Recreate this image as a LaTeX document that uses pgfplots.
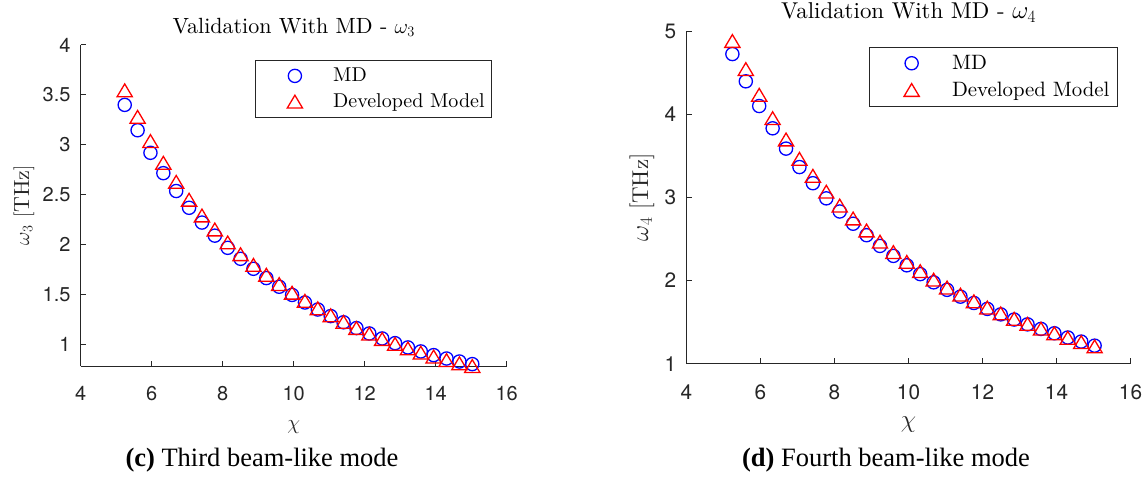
\documentclass[border=0pt]{standalone}
\usepackage{fontspec}
\usepackage{pgfplots}
\usepackage{pgfplotstable}
\pgfplotsset{compat=1.18}
\setmainfont{lmroman10-regular}[Extension=.otf, BoldFont=lmroman10-bold, ItalicFont=lmroman10-italic]
\newfontfamily\heros{TeX Gyre Heros}
\newfontfamily\timesf{Liberation Serif}
\definecolor{axgray}{RGB}{38,38,38}
\definecolor{mdblue}{RGB}{0,0,255}
\definecolor{devred}{RGB}{255,0,0}

\pgfdeclareplotmark{mtri}{%
  \pgfpathmoveto{\pgfqpoint{0pt}{6.4pt}}%
  \pgfpathlineto{\pgfqpoint{-7.6pt}{-6.4pt}}%
  \pgfpathlineto{\pgfqpoint{7.6pt}{-6.4pt}}%
  \pgfpathclose\pgfusepathqstroke}

\pgfplotstableread{
x md dev
5.240 3.400 3.546
5.603 3.146 3.280
5.965 2.920 3.038
6.328 2.716 2.820
6.690 2.537 2.629
7.053 2.369 2.450
7.416 2.221 2.292
7.778 2.090 2.152
8.141 1.968 2.022
8.503 1.858 1.904
8.866 1.758 1.797
9.229 1.665 1.698
9.591 1.578 1.605
9.954 1.496 1.518
10.316 1.420 1.437
10.679 1.350 1.362
11.042 1.284 1.292
11.404 1.222 1.226
11.767 1.164 1.165
12.129 1.110 1.108
12.492 1.060 1.055
12.855 1.013 1.005
13.217 0.970 0.960
13.580 0.930 0.918
13.942 0.893 0.879
14.305 0.859 0.843
14.668 0.829 0.811
15.030 0.803 0.784
}\omegathree

\pgfplotstableread{
x md dev
5.240 4.723 4.880
5.603 4.395 4.542
5.965 4.098 4.233
6.328 3.830 3.952
6.690 3.586 3.696
7.053 3.364 3.463
7.416 3.170 3.259
7.778 2.988 3.068
8.141 2.830 2.901
8.503 2.683 2.746
8.866 2.545 2.602
9.229 2.416 2.467
9.591 2.296 2.342
9.954 2.183 2.224
10.316 2.077 2.113
10.679 1.978 2.010
11.042 1.888 1.916
11.404 1.806 1.830
11.767 1.730 1.750
12.129 1.659 1.675
12.492 1.593 1.605
12.855 1.531 1.540
13.217 1.473 1.479
13.580 1.418 1.421
13.942 1.366 1.366
14.305 1.315 1.312
14.668 1.266 1.260
15.030 1.217 1.208
}\omegafour

\pgfplotsset{
  mstyle/.style={
    scale only axis, anchor=south west, clip=false,
    axis x line*=bottom, axis y line*=left,
    axis line style={-, axgray, line width=1pt},
    tick style={axgray, line width=1pt},
    tick align=inside, major tick length=5.5pt,
    xmin=4, xmax=16, xtick={4,6,...,16},
    /pgf/number format/assume math mode=true,
    ticklabel style={text=axgray, inner sep=0pt},
    yticklabel style={xshift=-10pt},
    title style={at={(axis description cs:0.5,1)}, anchor=base},
    xlabel style={at={(axis description cs:0.5,0)}, anchor=base, text=axgray},
    ylabel style={anchor=center, text=axgray},
    legend cell align=left,
  },
  mdplot/.style={mdblue, only marks, mark=o, mark size=6.6pt, line width=1.3pt},
  devplot/.style={devred, only marks, mark=mtri, line width=1.3pt},
}

\begin{document}
\begin{tikzpicture}
\useasboundingbox (0,0) rectangle (1147pt,477pt);

\begin{axis}[mstyle,
  at={(80.7pt,111pt)}, width=426pt, height=321pt,
  ymin=0.784, ymax=4, ytick={1,1.5,...,4},
  yticklabels={1,1.5,2,2.5,3,3.5,4},
  ticklabel style={font=\fontsize{20}{24}\selectfont\heros},
  xticklabel style={yshift=-20pt},
  title style={yshift=5.7pt, font=\fontsize{22}{26}\selectfont},
  title={Validation With MD - $\omega_3$},
  xlabel style={yshift=-63pt, font=\fontsize{22}{26}\selectfont},
  xlabel={$\chi$},
  ylabel style={at={(axis description cs:-0.1331,0.5)}, font=\fontsize{22}{26}\selectfont},
  ylabel={$\omega_3$ $[\mathrm{THz}]$},
  legend style={at={(axis description cs:1,1)}, anchor=north east,
    xshift=-15pt, yshift=-15pt, draw=axgray, line width=0.8pt,
    inner xsep=6.7pt, inner ysep=2.65pt,
    font=\fontsize{20}{24}\selectfont,
    nodes={inner sep=0pt}, row sep=0pt, column sep=0pt},
  legend image code/.code={\path[draw=none, fill=none] (0pt,-12.85pt) rectangle (71.3pt,12.85pt);
    \draw[#1] plot coordinates {(33pt,0pt)};},
]
\addplot[mdplot] table[x=x, y=md] {\omegathree};
\addlegendentry{MD}
\addplot[devplot] table[x=x, y=dev] {\omegathree};
\addlegendentry{Developed Model}
\end{axis}

\begin{axis}[mstyle,
  at={(686.5pt,113.3pt)}, width=444pt, height=332.7pt,
  ymin=1, ymax=5, ytick={1,2,3,4,5},
  ticklabel style={font=\fontsize{20.8}{25}\selectfont\heros},
  xticklabel style={yshift=-21pt},
  title style={yshift=6.7pt, font=\fontsize{22.9}{27}\selectfont},
  title={Validation With MD - $\omega_4$},
  xlabel style={yshift=-64pt, font=\fontsize{22.9}{27}\selectfont},
  xlabel={$\chi$},
  ylabel style={at={(axis description cs:-0.1002,0.5)}, font=\fontsize{22.9}{27}\selectfont},
  ylabel={$\omega_4$ $[\mathrm{THz}]$},
  legend style={at={(axis description cs:1,1)}, anchor=north east,
    xshift=-13pt, yshift=-15.7pt, draw=axgray, line width=0.8pt,
    inner xsep=7.6pt, inner ysep=2.8pt,
    font=\fontsize{20.8}{25}\selectfont,
    nodes={inner sep=0pt}, row sep=0pt, column sep=0pt},
  legend image code/.code={\path[draw=none, fill=none] (0pt,-13.35pt) rectangle (75.2pt,13.35pt);
    \draw[#1] plot coordinates {(34.8pt,0pt)};},
]
\addplot[mdplot] table[x=x, y=md] {\omegafour};
\addlegendentry{MD}
\addplot[devplot] table[x=x, y=dev] {\omegafour};
\addlegendentry{Developed Model}
\end{axis}

\node[anchor=base, font=\fontsize{26.5}{30}\selectfont\timesf] at (262pt,11pt)
  {\textbf{(c)} Third beam-like mode};
\node[anchor=base, font=\fontsize{26.5}{30}\selectfont\timesf] at (886pt,11pt)
  {\textbf{(d)} Fourth beam-like mode};
\end{tikzpicture}
\end{document}
